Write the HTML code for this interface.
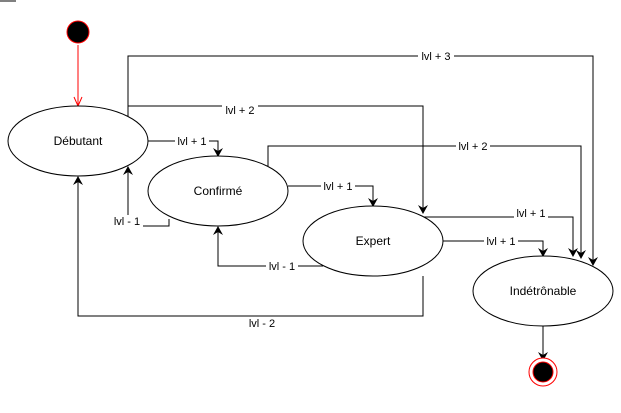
<!DOCTYPE html>
<html><head><meta charset="utf-8"><style>
html,body{margin:0;padding:0;background:#fff;}
svg{display:block;font-family:"Liberation Sans",sans-serif;font-size:11px;}
</style></head><body>
<svg width="621" height="413" viewBox="0 0 621 413" xmlns="http://www.w3.org/2000/svg">
<defs>
<marker id="a" markerWidth="10" markerHeight="10" refX="5" refY="9" orient="auto-start-reverse" viewBox="0 0 10 10" markerUnits="userSpaceOnUse">
<path d="M0,0 L5,10 L10,0 L5,3 Z" fill="#000" transform="rotate(0)"/>
</marker>
</defs>
<line x1="0" y1="1" x2="16" y2="1" stroke="#000" stroke-width="1"/>
<!-- start -->
<circle cx="78" cy="32" r="11" fill="#000" stroke="#f00" stroke-width="1"/>
<line x1="78" y1="45" x2="78" y2="106" stroke="#f00" stroke-width="1"/>
<polyline points="74,97 78,106 82,97" fill="none" stroke="#f00"/>
<g fill="none" stroke="#000" stroke-width="1">
<!-- lvl+3 -->
<polyline points="128,118 128,56 593,56 593,260"/>
<!-- lvl+2 -->
<polyline points="128,106 423,106 423,208"/>
<!-- lvl+1 deb->conf -->
<polyline points="148,141 218,141 218,151"/>
<!-- lvl+2 conf->ind -->
<polyline points="268,166 268,146 581,146 581,253"/>
<!-- lvl+1 conf->exp -->
<polyline points="288,186 373,186 373,201"/>
<!-- lvl+1 exp->ind -->
<polyline points="423,217 573,217 573,251"/>
<polyline points="443,241 543,241 543,251"/>
<!-- lvl-1 conf->deb -->
<polyline points="169,219 169,226 128,226 128,171"/>
<!-- lvl-1 exp->conf -->
<polyline points="323,266 218,266 218,231"/>
<!-- lvl-2 -->
<polyline points="423,276 423,316 78,316 78,181"/>
<!-- ind->end -->
<polyline points="543,326 543,355"/>
</g>
<g fill="#000">
<path d="M588,257 L593,266 L598,257 L593,260Z"/>
<path d="M418,205 L423,214 L428,205 L423,208Z"/>
<path d="M213,148 L218,157 L223,148 L218,151Z"/>
<path d="M576,250 L581,259 L586,250 L581,253Z"/>
<path d="M368,198 L373,207 L378,198 L373,201Z"/>
<path d="M568,248 L573,257 L578,248 L573,251Z"/>
<path d="M538,248 L543,257 L548,248 L543,251Z"/>
<path d="M123,175 L128,166 L133,175 L128,172Z"/>
<path d="M213,235 L218,226 L223,235 L218,232Z"/>
<path d="M73,185 L78,176 L83,185 L78,182Z"/>
<path d="M538,352 L543,361 L548,352 L543,355Z"/>
</g>
<!-- ellipses -->
<g fill="#fff" stroke="#000" stroke-width="1">
<ellipse cx="78" cy="141" rx="70" ry="35"/>
<ellipse cx="218" cy="191" rx="70" ry="35"/>
<ellipse cx="373" cy="241" rx="70" ry="35"/>
<ellipse cx="543" cy="291" rx="70" ry="35"/>
</g>
<g text-anchor="middle" font-size="12" fill="#000">
<text x="78" y="145">Débutant</text>
<text x="218" y="195">Confirmé</text>
<text x="373" y="245">Expert</text>
<text x="543" y="295">Indétrônable</text>
</g>
<!-- end -->
<circle cx="543" cy="372" r="14" fill="#fff" stroke="#f00" stroke-width="1"/>
<circle cx="543" cy="372" r="10" fill="#000" stroke="#f00" stroke-width="1"/>
<!-- labels -->
<g text-anchor="middle" fill="#000">
<rect x="418" y="50" width="36" height="12" fill="#fff"/><text x="436" y="60">lvl + 3</text>
<rect x="222" y="104" width="36" height="12" fill="#fff"/><text x="240" y="114">lvl + 2</text>
<rect x="175" y="135" width="34" height="12" fill="#fff"/><text x="192" y="145">lvl + 1</text>
<rect x="456" y="140" width="34" height="12" fill="#fff"/><text x="473" y="150">lvl + 2</text>
<rect x="321" y="180" width="34" height="12" fill="#fff"/><text x="338" y="190">lvl + 1</text>
<rect x="514" y="207" width="34" height="12" fill="#fff"/><text x="531" y="217">lvl + 1</text>
<rect x="484" y="235" width="34" height="12" fill="#fff"/><text x="501" y="245">lvl + 1</text>
<rect x="111" y="215" width="32" height="12" fill="#fff"/><text x="127" y="225">lvl - 1</text>
<rect x="266" y="260" width="32" height="12" fill="#fff"/><text x="282" y="270">lvl - 1</text>
<text x="262" y="327">lvl - 2</text>
</g>
</svg>
</body></html>
